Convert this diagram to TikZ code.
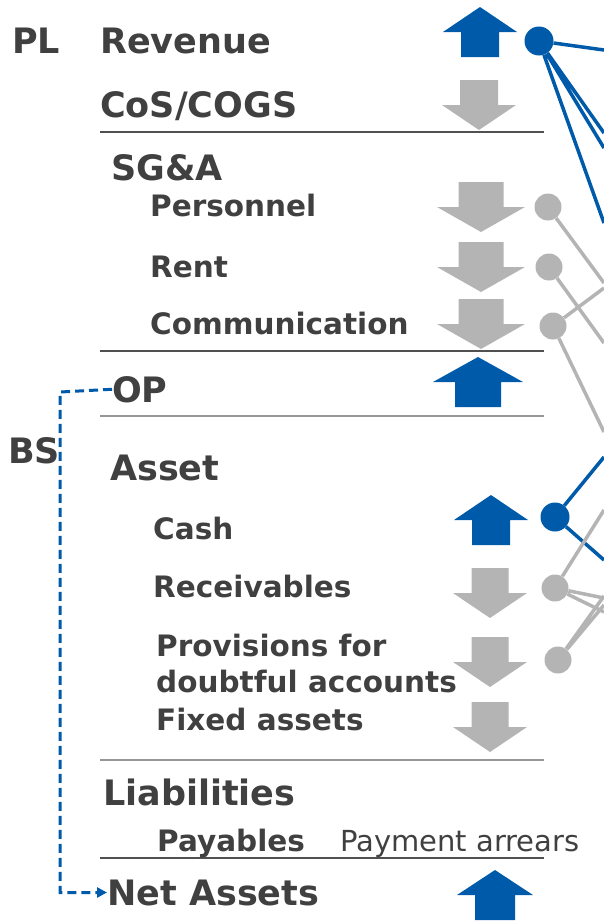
\documentclass[tikz,border=0pt]{standalone}
\usepackage{fontspec}
\setmainfont{DejaVu Sans}
\usetikzlibrary{arrows.meta}
\definecolor{kblue}{RGB}{0,90,170}
\definecolor{kgray}{RGB}{180,180,180}
\definecolor{txt}{RGB}{64,64,64}
\definecolor{ruledark}{RGB}{80,80,80}
\definecolor{rulelight}{RGB}{150,150,150}
% big block arrow: colour, x of tip, y of tip, half width, half stem, direction (1 up, -1 down)
\newcommand{\blockarrow}[6]{%
  \fill[#1] (#2,#3) -- ++(#4,{25*#6}) -- ++({-#4+#5},0) -- ++(0,{25*#6})
    -- ++({-2*#5},0) -- ++(0,{-25*#6}) -- ++({-#4+#5},0) -- cycle;}
\tikzset{
  head/.style={anchor=base west, inner sep=0pt, text=txt, font=\fontsize{35}{40}\selectfont\bfseries},
  item/.style={anchor=base west, inner sep=0pt, text=txt, font=\fontsize{29.5}{36}\selectfont\bfseries},
  note/.style={anchor=base west, inner sep=0pt, text=txt, font=\fontsize{29}{36}\selectfont},
  bdot/.style={circle, fill=kblue, inner sep=0pt, minimum size=29pt},
  gdot/.style={circle, fill=kgray, inner sep=0pt, minimum size=27pt},
  blink/.style={kblue, line width=3.5pt},
  glink/.style={kgray, line width=3.5pt},
  rule/.style={ruledark, line width=1.5pt},
  lrule/.style={rulelight, line width=1.5pt},
}
\begin{document}
\begin{tikzpicture}[x=1pt, y=-1pt, >={Triangle[length=10pt,width=10pt]}, line join=miter]
    \useasboundingbox (0,0) rectangle (604,921);
    % block arrows
    \blockarrow{kblue}{480}{7}{37}{19}{1}
    \blockarrow{kgray}{479}{130}{37}{19}{-1}
    \blockarrow{kgray}{481}{232}{44}{22.5}{-1}
    \blockarrow{kgray}{481}{292}{44}{22.5}{-1}
    \blockarrow{kgray}{481}{349}{44}{22.5}{-1}
    \blockarrow{kblue}{478}{357}{45}{23}{1}
    \blockarrow{kblue}{491}{495}{37}{19}{1}
    \blockarrow{kgray}{490}{618}{37}{18.5}{-1}
    \blockarrow{kgray}{490}{687}{37}{18.5}{-1}
    \blockarrow{kgray}{490}{752}{37}{18.5}{-1}
    \blockarrow{kblue}{495}{870}{38}{20}{1}
    % rules
    \draw[rule] (100,132) -- (544,132);
    \draw[rule] (100,351) -- (544,351);
    \draw[lrule] (100,416) -- (544,416);
    \draw[lrule] (100,760) -- (544,760);
    \draw[rule] (100,858) -- (544,858);
    % labels
    \node[head] (pl) at (12,53) {PL};
    \node[head] (bs) at (8,463) {BS};
    \node[head] (rev) at (100,53) {Revenue};
    \node[head] (cos) at (100,117) {CoS/COGS};
    \node[head] (sga) at (111,180) {SG\&A};
    \node[item] (pers) at (150,216) {Personnel};
    \node[item] (rent) at (150,277) {Rent};
    \node[item] (comm) at (150,334) {Communication};
    \node[head] (op) at (112,402) {OP};
    \node[head] (asset) at (110,480) {Asset};
    \node[item] (cash) at (153,539) {Cash};
    \node[item] (recv) at (153,597) {Receivables};
    \node[item] (prova) at (156,656) {Provisions for};
    \node[item] (provb) at (156,692) {doubtful accounts};
    \node[item] (fixed) at (156,730) {Fixed assets};
    \node[head] (liab) at (103,805) {Liabilities};
    \node[item] (pay) at (157,851) {Payables};
    \node[note] (arrears) at (340,851) {Payment arrears};
    \node[head] (net) at (107,905) {Net Assets};
    % OP carried into net assets
    \coordinate (bend) at (60,392);
    \draw[kblue, line width=3pt, dash pattern=on 9pt off 5pt, ->] (op.west) -- (bend) |- (net.west);
    % dots
    \node[bdot] (revdot) at (539,41) {};
    \node[gdot] (persdot) at (548,207) {};
    \node[gdot] (rentdot) at (549,267) {};
    \node[gdot] (commdot) at (553,326) {};
    \node[bdot] (cashdot) at (555,517) {};
    \node[gdot] (recvdot) at (555,588) {};
    \node[gdot] (provdot) at (558,660) {};
    % free ends at the right edge
    \foreach \y [count=\i] in {50,133,148,223,283,343,288,432,457,560,510,598,612,596,605}
        \coordinate (e\i) at (604,\y);
    \draw[blink] (revdot) -- (e1) (revdot) -- (e2) (revdot) -- (e3) (revdot) -- (e4);
    \draw[glink] (persdot) -- (e5) (rentdot) -- (e6) (commdot) -- (e7) (commdot) -- (e8);
    \draw[blink] (cashdot) -- (e9) (cashdot) -- (e10);
    \draw[glink] (recvdot) -- (e11) (recvdot) -- (e12) (recvdot) -- (e13);
    \draw[glink] (provdot) -- (e14) (provdot) -- (e15);
\end{tikzpicture}
\end{document}
